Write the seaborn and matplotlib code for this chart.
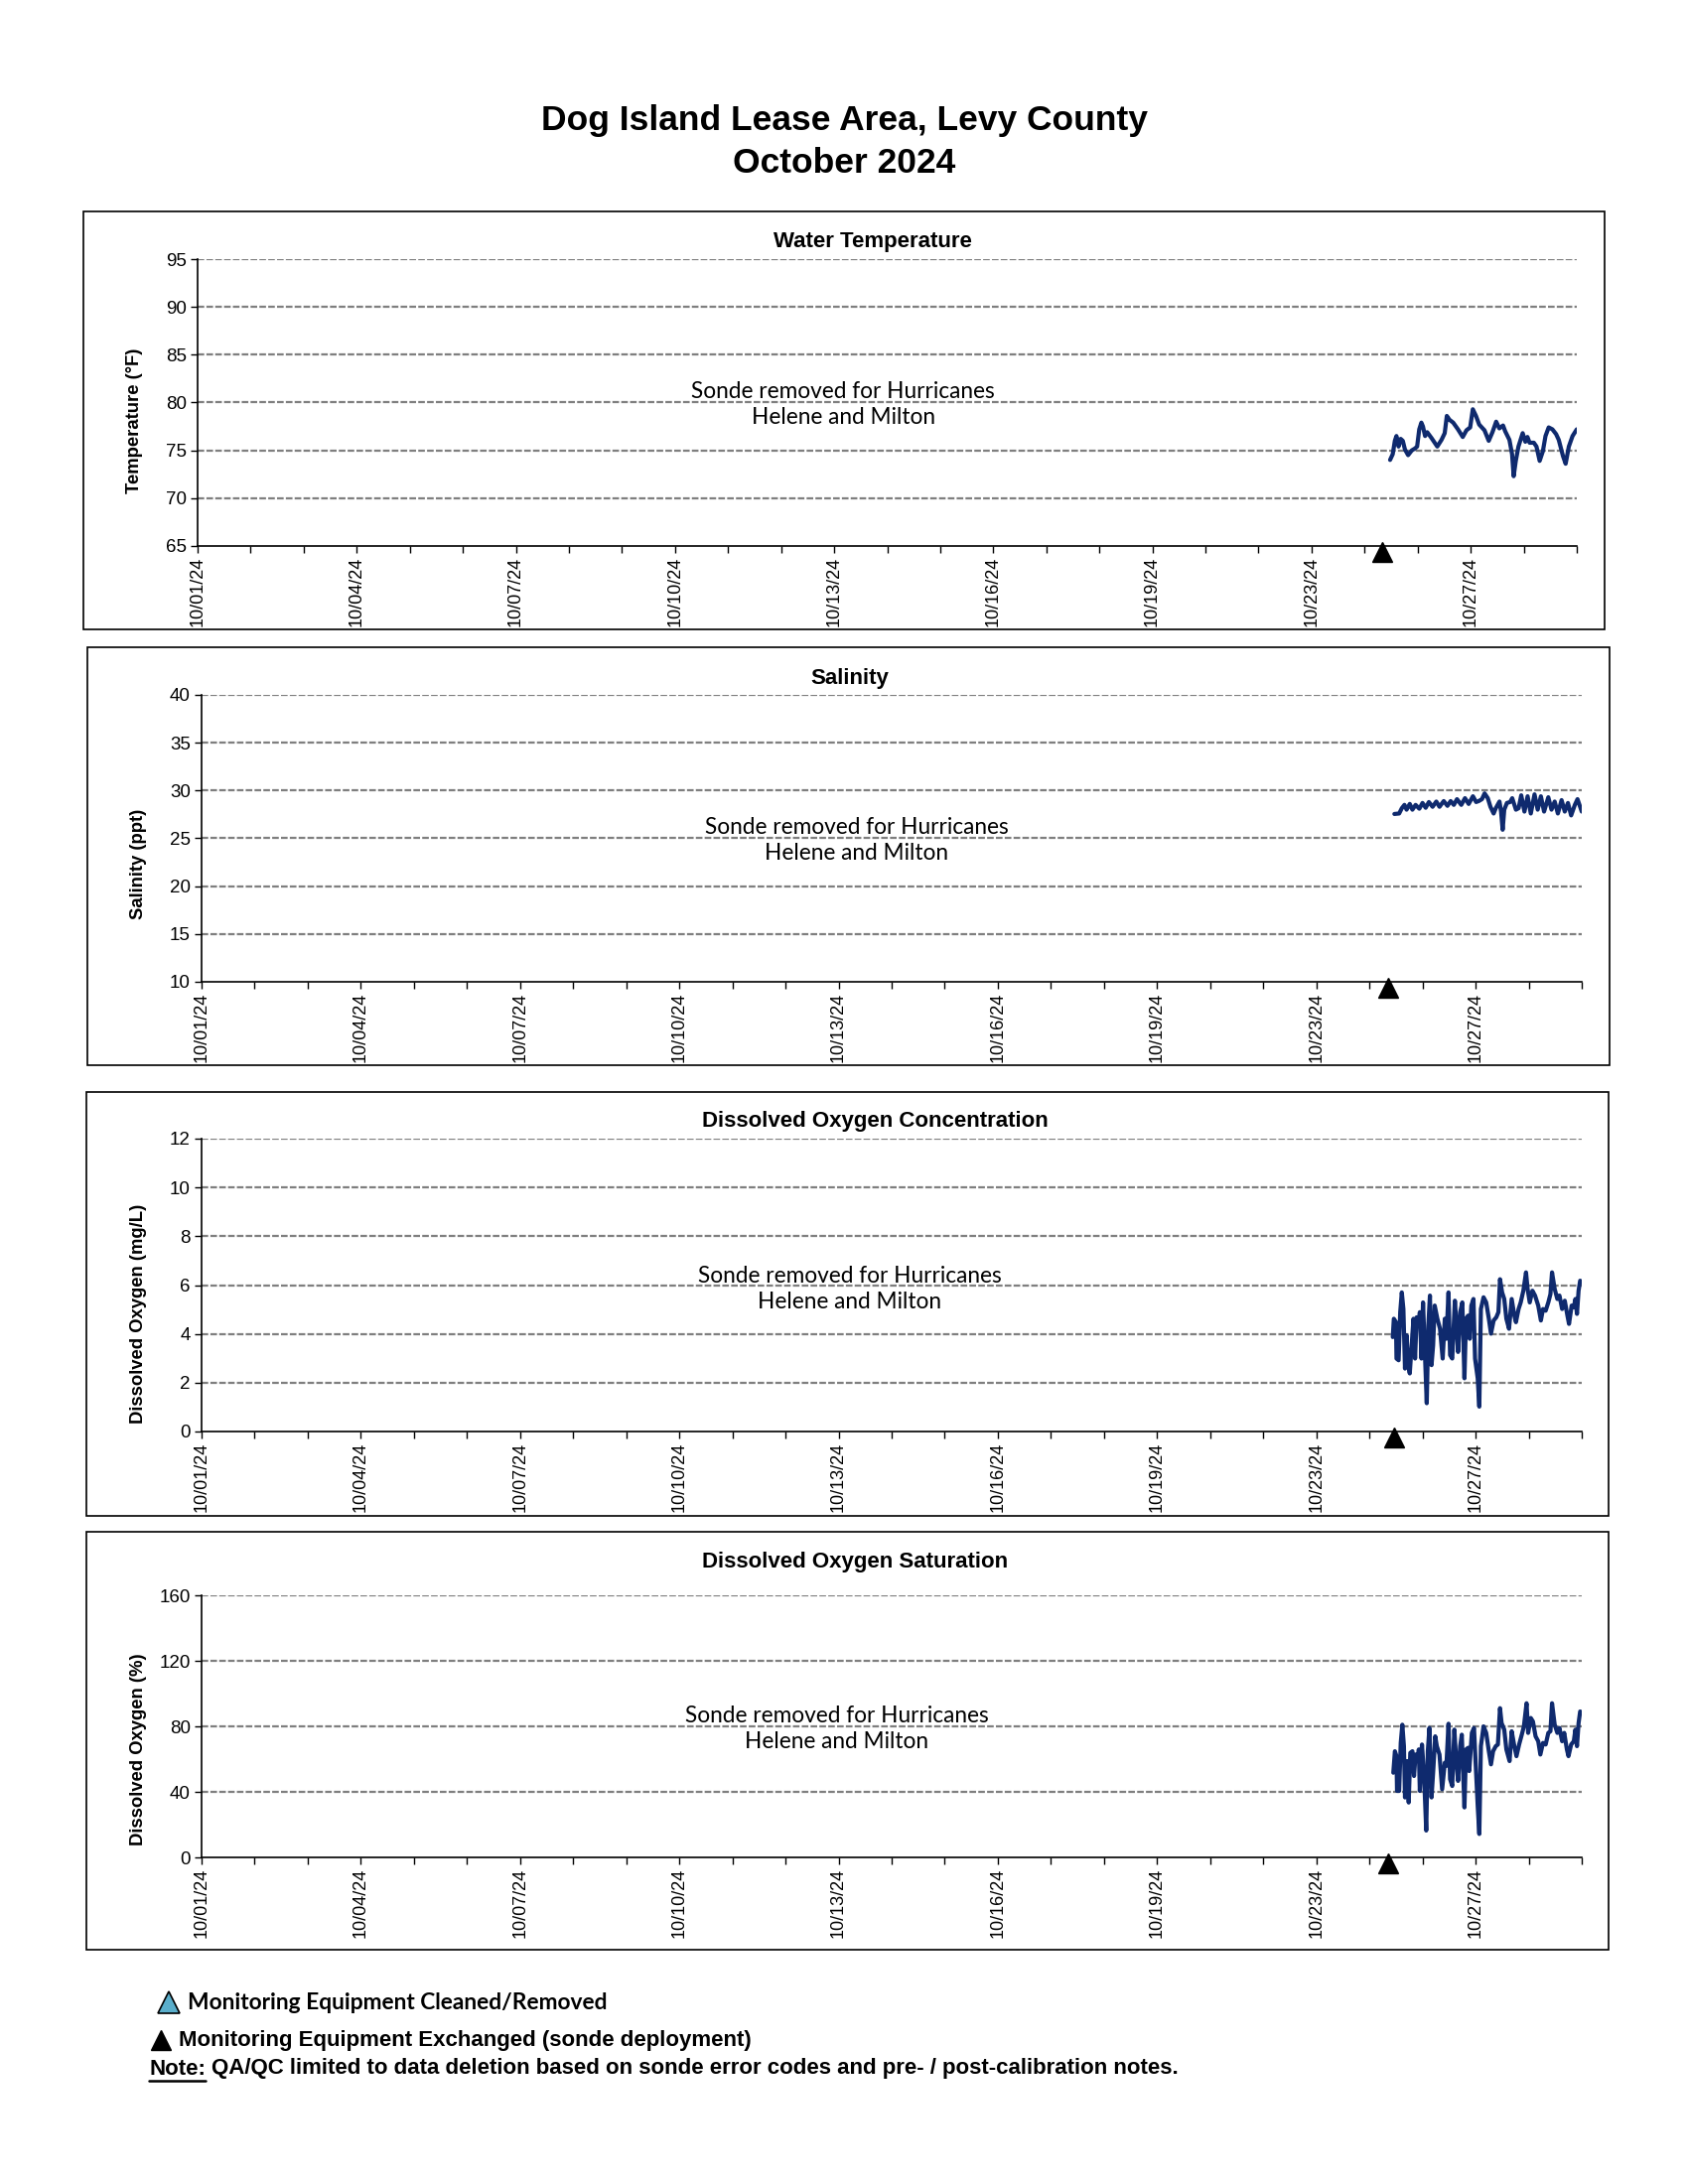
"""
Dog Island Lease Area monthly sonde plots (October 2024)
"""
import pandas as pd
import seaborn as sns
import matplotlib.pyplot as plt
from matplotlib.patches import Rectangle
from matplotlib.lines import Line2D

#####################################################################
# Data
#####################################################################
# x is in axis tick units: one tick per unit, a date label every 3rd tick
TICK_LABELS = ["10/01/24", "10/04/24", "10/07/24", "10/10/24", "10/13/24",
               "10/16/24", "10/19/24", "10/23/24", "10/27/24"]
N_TICKS = 26

temp_x = [22.48, 22.53, 22.57, 22.60, 22.64, 22.68, 22.72, 22.76, 22.82, 22.89,
          22.95, 22.99, 23.03, 23.07, 23.10, 23.14, 23.18, 23.26, 23.37, 23.45,
          23.51, 23.55, 23.60, 23.67, 23.76, 23.85, 23.92, 23.99, 24.04, 24.10,
          24.16, 24.26, 24.34, 24.41, 24.48, 24.54, 24.61, 24.65, 24.73, 24.78,
          24.81, 24.85, 24.90, 24.98, 25.03, 25.07, 25.11, 25.19, 25.24, 25.30,
          25.36, 25.41, 25.47, 25.54, 25.61, 25.66, 25.74, 25.79, 25.85, 25.92,
          26.00]
temp_y = [74.0, 74.6, 76.0, 76.5, 75.4, 76.2, 76.0, 75.1, 74.5, 75.0,
          75.2, 75.4, 77.2, 77.9, 77.5, 76.5, 76.9, 76.3, 75.4, 76.1,
          76.8, 78.6, 78.2, 77.9, 77.2, 76.4, 77.1, 77.4, 79.3, 78.6,
          77.7, 77.1, 76.0, 76.9, 78.0, 77.3, 77.6, 77.0, 76.1, 74.6,
          72.3, 73.9, 75.4, 76.8, 75.9, 76.4, 75.8, 75.8, 75.4, 73.9,
          74.9, 76.5, 77.4, 77.2, 76.7, 76.1, 74.4, 73.6, 75.4, 76.5,
          77.2]

sal_x = [22.47, 22.56, 22.61, 22.66, 22.70, 22.76, 22.81, 22.87, 22.94, 23.00,
         23.06, 23.12, 23.19, 23.26, 23.32, 23.40, 23.47, 23.53, 23.59, 23.65,
         23.73, 23.80, 23.87, 23.95, 24.01, 24.06, 24.12, 24.17, 24.23, 24.28,
         24.34, 24.38, 24.45, 24.48, 24.51, 24.54, 24.59, 24.65, 24.69, 24.76,
         24.81, 24.86, 24.92, 24.98, 25.04, 25.11, 25.17, 25.23, 25.29, 25.37,
         25.43, 25.49, 25.55, 25.62, 25.68, 25.74, 25.80, 25.87, 25.92, 26.00]
sal_y = [27.55, 27.6, 28.15, 28.5, 28.0, 28.6, 28.0, 28.5, 28.1, 28.7,
         28.2, 28.8, 28.3, 28.85, 28.3, 28.9, 28.4, 28.9, 28.5, 29.1,
         28.5, 29.2, 28.6, 29.4, 28.8, 28.9, 29.1, 29.7, 29.2, 28.3,
         27.6, 28.15, 28.85, 27.8, 25.9, 28.0, 28.7, 28.8, 29.2, 28.0,
         28.15, 29.5, 27.8, 29.4, 27.6, 29.6, 28.0, 29.4, 27.8, 29.3,
         28.0, 28.85, 27.6, 29.0, 27.8, 28.7, 27.4, 28.5, 29.1, 27.8]

do_x = [22.44, 22.46, 22.50, 22.51, 22.55, 22.58, 22.61, 22.64, 22.67, 22.70,
        22.73, 22.76, 22.80, 22.83, 22.86, 22.89, 22.92, 22.95, 22.98, 23.01,
        23.04, 23.08, 23.11, 23.14, 23.17, 23.20, 23.23, 23.28, 23.33, 23.38,
        23.42, 23.45, 23.49, 23.52, 23.56, 23.61, 23.64, 23.67, 23.71, 23.75,
        23.79, 23.82, 23.86, 23.89, 23.92, 23.96, 23.99, 24.04, 24.07, 24.10,
        24.15, 24.20, 24.25, 24.29, 24.34, 24.39, 24.43, 24.46, 24.50, 24.54,
        24.58, 24.63, 24.68, 24.73, 24.76, 24.81, 24.85, 24.90, 24.95, 24.98,
        25.02, 25.07, 25.12, 25.18, 25.23, 25.27, 25.32, 25.37, 25.41, 25.44,
        25.49, 25.54, 25.58, 25.63, 25.68, 25.73, 25.76, 25.81, 25.85, 25.88,
        25.91, 25.94, 25.97]
do_y = [3.87, 4.62, 4.48, 2.99, 2.92, 4.89, 5.70, 5.02, 2.58, 3.94,
        2.72, 2.38, 3.67, 4.62, 2.99, 4.68, 4.35, 4.89, 2.99, 5.29,
        3.53, 1.16, 4.35, 5.57, 2.72, 3.53, 5.16, 4.62, 4.21, 2.99,
        4.62, 3.80, 5.70, 3.13, 2.99, 5.36, 4.35, 3.26, 4.89, 5.29,
        2.18, 4.62, 4.75, 3.80, 5.16, 5.43, 2.99, 2.18, 1.02, 5.02,
        5.50, 5.29, 4.62, 4.01, 4.55, 4.68, 4.89, 6.24, 5.70, 5.43,
        4.62, 4.21, 5.43, 4.75, 4.48, 5.02, 5.29, 5.77, 6.52, 5.84,
        5.29, 5.77, 5.57, 5.16, 4.55, 5.02, 4.95, 5.29, 5.63, 6.52,
        5.84, 5.43, 5.57, 5.02, 5.36, 4.75, 4.41, 5.16, 5.09, 5.43,
        4.82, 5.77, 6.18]

sat_x = [22.45, 22.48, 22.51, 22.52, 22.56, 22.59, 22.62, 22.65, 22.67, 22.71,
         22.74, 22.77, 22.81, 22.84, 22.87, 22.91, 22.93, 22.95, 22.99, 23.03,
         23.07, 23.10, 23.13, 23.17, 23.20, 23.24, 23.27, 23.32, 23.37, 23.42,
         23.45, 23.49, 23.52, 23.56, 23.60, 23.63, 23.67, 23.71, 23.74, 23.79,
         23.82, 23.86, 23.88, 23.93, 23.97, 24.01, 24.04, 24.07, 24.10, 24.15,
         24.20, 24.25, 24.29, 24.33, 24.38, 24.42, 24.46, 24.49, 24.54, 24.58,
         24.64, 24.68, 24.73, 24.77, 24.82, 24.87, 24.91, 24.96, 24.99, 25.04,
         25.08, 25.13, 25.18, 25.22, 25.27, 25.32, 25.37, 25.41, 25.44, 25.49,
         25.54, 25.58, 25.63, 25.67, 25.72, 25.75, 25.80, 25.85, 25.88, 25.91,
         25.94, 25.97]
sat_y = [51.7, 64.8, 61.8, 40.6, 40.6, 69.9, 81.0, 67.9, 36.6, 58.8,
         33.5, 63.8, 64.8, 49.7, 62.8, 58.8, 65.9, 40.6, 68.9, 49.7,
         16.4, 64.8, 79.0, 36.6, 51.7, 73.9, 67.9, 62.8, 41.6, 57.8,
         55.8, 81.6, 47.7, 43.6, 78.0, 61.8, 46.7, 67.9, 74.9, 30.5,
         65.9, 66.9, 52.7, 76.0, 79.0, 51.7, 31.5, 14.3, 67.9, 80.0,
         76.0, 64.8, 56.8, 64.8, 67.9, 68.9, 91.1, 82.0, 78.0, 65.9,
         58.8, 77.0, 67.9, 61.8, 68.9, 74.9, 80.0, 94.1, 76.0, 85.1,
         83.0, 73.9, 70.9, 62.8, 69.9, 68.9, 76.0, 77.0, 94.1, 81.0,
         76.0, 79.0, 70.9, 76.0, 65.9, 61.8, 68.9, 70.9, 78.0, 67.9,
         82.0, 89.1]

# sonde deployment (black triangle) per panel
deploy_x = [22.34, 22.36, 22.47, 22.36]

panel_titles = ["Water Temperature", "Salinity",
                "Dissolved Oxygen Concentration", "Dissolved Oxygen Saturation"]
y_labels = ["Temperature (\u00b0F)", "Salinity (ppt)",
            "Dissolved Oxygen (mg/L)", "Dissolved Oxygen (%)"]
y_ticks = [[65, 70, 75, 80, 85, 90, 95],
           [10, 15, 20, 25, 30, 35, 40],
           [0, 2, 4, 6, 8, 10, 12],
           [0, 40, 80, 120, 160]]
note_y = [79.75, 24.8, 5.83, 78.6]

#####################################################################
# Layout (pixels of the 1700x2200 page)
#####################################################################
W, H = 1700, 2200
plot_boxes = [(199, 261, 1588, 550), (203, 700, 1593, 989),
              (203, 1147, 1593, 1442), (203, 1607, 1593, 1871)]
frame_boxes = [(84, 213, 1616, 634), (88, 652, 1621, 1073),
               (87, 1100, 1620, 1527), (87, 1543, 1620, 1964)]
title_pos = [(879, 244), (856, 683), (881, 1129), (861, 1574)]
ylabel_pos = [(136, 424), (140, 870), (140, 1323), (140, 1762)]
note_xfrac = [0.468, 0.4745, 0.4695, 0.4604]

LINE_COLOR = "#0f2a6e"
GRID_COLOR = "#7f7f7f"

sns.set_theme(style="white")
plt.rcParams["font.family"] = ["Liberation Sans", "DejaVu Sans"]
for key in ["text.color", "axes.labelcolor", "xtick.color", "ytick.color"]:
    plt.rcParams[key] = "black"

fig = plt.figure(figsize=(W / 100, H / 100), dpi=100)
fig.patch.set_facecolor("white")


def fx(px):
    return px / W


def fy(py):
    return 1 - py / H


fig.text(0.5, fy(122), "Dog Island Lease Area, Levy County", ha="center",
         va="center", fontsize=25.5, weight="bold")
fig.text(0.5, fy(165), "October 2024", ha="center", va="center",
         fontsize=25.5, weight="bold")

series = [(temp_x, temp_y), (sal_x, sal_y), (do_x, do_y), (sat_x, sat_y)]

for i, (xs, ys) in enumerate(series):
    #################################################################
    # Frame and axes
    #################################################################
    x0, y0, x1, y1 = frame_boxes[i]
    fig.add_artist(Rectangle((fx(x0), fy(y1)), fx(x1 - x0), (y1 - y0) / H,
                             transform=fig.transFigure, fill=False,
                             edgecolor="black", lw=1.2))
    px0, py0, px1, py1 = plot_boxes[i]
    ax = fig.add_axes([fx(px0), fy(py1), fx(px1 - px0), (py1 - py0) / H])

    df = pd.DataFrame({"x": xs, "y": ys})
    sns.lineplot(data=df, x="x", y="y", ax=ax, color=LINE_COLOR, lw=3.0,
                 estimator=None, sort=False)

    ticks = y_ticks[i]
    ax.set_ylim(ticks[0], ticks[-1])
    ax.set_yticks(ticks)
    ax.set_xlim(0, N_TICKS)
    ax.set_xticks(range(N_TICKS + 1))
    ax.set_xticklabels([TICK_LABELS[k // 3] if k % 3 == 0 and k // 3 < len(TICK_LABELS)
                        else "" for k in range(N_TICKS + 1)],
                       rotation=90, fontsize=13)
    ax.tick_params(axis="y", labelsize=13.5)
    ax.tick_params(direction="out", length=5, width=1, color="black",
                   bottom=True, left=True, pad=3)
    ax.set_xlabel("")
    ax.set_ylabel("")
    for t in ticks[1:]:
        ax.axhline(t, color=GRID_COLOR, lw=1.6, ls=(0, (3, 1)), zorder=0)
    for side in ["top", "right"]:
        ax.spines[side].set_visible(False)
    for side in ["left", "bottom"]:
        ax.spines[side].set_color("black")
        ax.spines[side].set_linewidth(1.2)
    ax.set_facecolor("white")

    # deployment marker just below the axis
    ax.plot([deploy_x[i]], [-0.022], marker="^", ms=15, color="black",
            transform=ax.get_xaxis_transform(), clip_on=False, ls="none")

    ax.text(note_xfrac[i], note_y[i], "Sonde removed for Hurricanes\nHelene and Milton",
            transform=ax.get_yaxis_transform(), ha="center", va="center",
            fontsize=16.3, family=["Lato", "DejaVu Sans"], linespacing=1.3)

    fig.text(fx(title_pos[i][0]), fy(title_pos[i][1]), panel_titles[i],
             ha="center", va="center", fontsize=16, weight="bold")
    fig.text(fx(ylabel_pos[i][0]), fy(ylabel_pos[i][1]), y_labels[i],
             ha="center", va="center", rotation=90, fontsize=13.3, weight="bold")

#####################################################################
# Legend / notes
#####################################################################
fig.add_artist(Line2D([fx(170)], [fy(2017)], marker="^", ms=16,
                      mfc="#5aaecb", mec="black", mew=1.2, ls="none",
                      transform=fig.transFigure))
fig.text(fx(189), fy(2017), "Monitoring Equipment Cleaned/Removed",
         ha="left", va="center", fontsize=16.4, weight="bold",
         family=["Lato", "DejaVu Sans"])
fig.add_artist(Line2D([fx(162)], [fy(2055)], marker="^", ms=14,
                      color="black", ls="none", transform=fig.transFigure))
fig.text(fx(180), fy(2055), "Monitoring Equipment Exchanged (sonde deployment)",
         ha="left", va="center", fontsize=16, weight="bold")
note = fig.text(fx(150), fy(2084), "Note:", ha="left", va="center",
                fontsize=16, weight="bold")
fig.canvas.draw()
bb = note.get_window_extent()
fig.add_artist(Line2D([bb.x0 / W, bb.x1 / W], [(bb.y0 - 1) / H, (bb.y0 - 1) / H],
                      color="black", lw=1.8, transform=fig.transFigure))
fig.text((bb.x1 + 6) / W, fy(2084),
         "QA/QC limited to data deletion based on sonde error codes and pre- / post-calibration notes.",
         ha="left", va="center", fontsize=16, weight="bold")

plt.savefig("out.png", dpi=100)
plt.close()
